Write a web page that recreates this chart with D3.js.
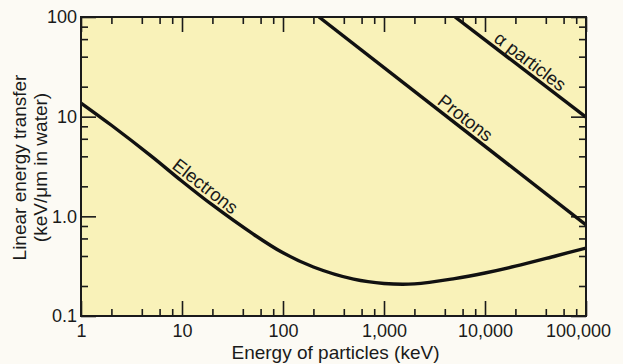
<!DOCTYPE html>
<html>
<head>
<meta charset="utf-8">
<script src="https://cdn.jsdelivr.net/npm/d3@7"></script>
<style>
  html, body { margin: 0; padding: 0; background: #fcfaf4; }
  svg { display: block; }
  text { font-family: "Liberation Sans", Arial, Helvetica, sans-serif; fill: #1a1a1a; }
</style>
</head>
<body>
<svg id="chart" width="623" height="364"></svg>
<script>
// Linear energy transfer (keV/µm in water) versus particle energy (keV)
const electronEnergy = [1, 2, 5, 10, 20, 50, 100, 200, 500, 1000, 2000, 5000, 10000, 20000, 50000, 100000];
const electronLET    = [13.7, 8.2, 4.0, 2.25, 1.3, 0.67, 0.43, 0.31, 0.234, 0.212, 0.21, 0.237, 0.27, 0.316, 0.40, 0.48];

const protonEnergy = [227, 100000];
const protonLET    = [100, 0.82];

const alphaEnergy = [5050, 100000];
const alphaLET    = [100, 9.9];

const xMajorTicks = [1, 10, 100, 1000, 10000, 100000];
const xTickLabels = ["1", "10", "100", "1,000", "10,000", "100,000"];
const yMajorTicks = [0.1, 1, 10, 100];
const yTickLabels = ["0.1", "1.0", "10", "100"];
const minorMultipliers = [2, 4, 6, 8];

const series = [
  { name: "Electrons",   energy: electronEnergy, let: electronLET, labelAt: 14.7 },
  { name: "Protons",     energy: protonEnergy,   let: protonLET,   labelAt: 5530 },
  { name: "α particles", energy: alphaEnergy,    let: alphaLET,    labelAt: 24300 }
];

const svg = d3.select("#chart");
const margin = { left: 81, right: 37, top: 17, bottom: 48 };
const W = 623, H = 364;

const x = d3.scaleLog().domain([1, 100000]).range([margin.left, W - margin.right]);
const y = d3.scaleLog().domain([0.1, 100]).range([H - margin.bottom, margin.top]);

const [x0, x1] = x.range();
const [y0, y1] = [y.range()[1], y.range()[0]];

// plot background
svg.append("rect")
  .attr("x", x0).attr("y", y0)
  .attr("width", x1 - x0).attr("height", y1 - y0)
  .attr("fill", "#f9f2b9");

// minor tick values per decade
function minors(lo, hi) {
  const out = [];
  for (let d = lo; d < hi; d *= 10) minorMultipliers.forEach(m => out.push(d * m));
  return out;
}
const xMinor = minors(1, 100000);
const yMinor = minors(0.1, 100);

const majorLen = 15, minorLen = 7;

function styleAxis(g) {
  g.select(".domain").remove();
  g.selectAll(".tick line").attr("stroke", "#1a1a1a").attr("stroke-width", 1.6);
}

// bottom axis
svg.append("g").attr("transform", `translate(0,${y1})`)
  .call(d3.axisBottom(x).tickValues(xMajorTicks).tickSize(-majorLen).tickPadding(8)
        .tickFormat((d, i) => xTickLabels[i]))
  .call(styleAxis)
  .call(g => g.selectAll("text").attr("font-size", 18)
        .attr("dx", (d, i) => i === xMajorTicks.length - 1 ? -8 : 0));
svg.append("g").attr("transform", `translate(0,${y1})`)
  .call(d3.axisBottom(x).tickValues(xMinor).tickSize(-minorLen).tickFormat(""))
  .call(styleAxis);

// top axis
svg.append("g").attr("transform", `translate(0,${y0})`)
  .call(d3.axisTop(x).tickValues(xMajorTicks).tickSize(-majorLen).tickFormat(""))
  .call(styleAxis);
svg.append("g").attr("transform", `translate(0,${y0})`)
  .call(d3.axisTop(x).tickValues(xMinor).tickSize(-minorLen).tickFormat(""))
  .call(styleAxis);

// left axis
svg.append("g").attr("transform", `translate(${x0},0)`)
  .call(d3.axisLeft(y).tickValues(yMajorTicks).tickSize(-majorLen).tickPadding(4)
        .tickFormat((d, i) => yTickLabels[i]))
  .call(styleAxis)
  .call(g => g.selectAll("text").attr("font-size", 18));
svg.append("g").attr("transform", `translate(${x0},0)`)
  .call(d3.axisLeft(y).tickValues(yMinor).tickSize(-minorLen).tickFormat(""))
  .call(styleAxis);

// right axis
svg.append("g").attr("transform", `translate(${x1},0)`)
  .call(d3.axisRight(y).tickValues(yMajorTicks).tickSize(-majorLen).tickFormat(""))
  .call(styleAxis);
svg.append("g").attr("transform", `translate(${x1},0)`)
  .call(d3.axisRight(y).tickValues(yMinor).tickSize(-minorLen).tickFormat(""))
  .call(styleAxis);

// curves, clipped to the frame
svg.append("clipPath").attr("id", "plotClip")
  .append("rect").attr("x", x0).attr("y", y0).attr("width", x1 - x0).attr("height", y1 - y0);

const line = d3.line()
  .x(d => x(d[0]))
  .y(d => y(d[1]))
  .curve(d3.curveCatmullRom.alpha(0.5));

const curves = svg.append("g").attr("clip-path", "url(#plotClip)");
series.forEach(s => {
  curves.append("path")
    .datum(s.energy.map((e, i) => [e, s.let[i]]))
    .attr("fill", "none")
    .attr("stroke", "#111")
    .attr("stroke-width", 3.4)
    .attr("stroke-linejoin", "round")
    .attr("d", line);
});

// frame
svg.append("rect")
  .attr("x", x0).attr("y", y0)
  .attr("width", x1 - x0).attr("height", y1 - y0)
  .attr("fill", "none").attr("stroke", "#1a1a1a").attr("stroke-width", 2);

// log-log interpolation along a series, for label placement
function letAt(s, e) {
  const le = Math.log10(e);
  const xs = s.energy.map(Math.log10), ys = s.let.map(Math.log10);
  let i = 0;
  while (i < xs.length - 2 && le > xs[i + 1]) i++;
  const t = (le - xs[i]) / (xs[i + 1] - xs[i]);
  return Math.pow(10, ys[i] + t * (ys[i + 1] - ys[i]));
}

series.forEach(s => {
  const e = s.labelAt;
  const px = x(e), py = y(letAt(s, e));
  const ea = e / 1.3, eb = e * 1.3;
  const ang = Math.atan2(y(letAt(s, eb)) - y(letAt(s, ea)), x(eb) - x(ea)) * 180 / Math.PI;
  svg.append("text")
    .attr("transform", `translate(${px},${py}) rotate(${ang})`)
    .attr("dy", -4)
    .attr("text-anchor", "middle")
    .attr("font-size", 18.5)
    .text(s.name);
});

// axis titles
svg.append("text")
  .attr("x", (x0 + x1) / 2 + 2).attr("y", 359)
  .attr("text-anchor", "middle").attr("font-size", 19)
  .text("Energy of particles (keV)");

const yMid = (y0 + y1) / 2 + 1;
svg.append("text")
  .attr("transform", `translate(26,${yMid}) rotate(-90)`)
  .attr("text-anchor", "middle").attr("font-size", 19)
  .text("Linear energy transfer");
svg.append("text")
  .attr("transform", `translate(47,${yMid}) rotate(-90)`)
  .attr("text-anchor", "middle").attr("font-size", 19)
  .text("(keV/μm in water)");
</script>
</body>
</html>
